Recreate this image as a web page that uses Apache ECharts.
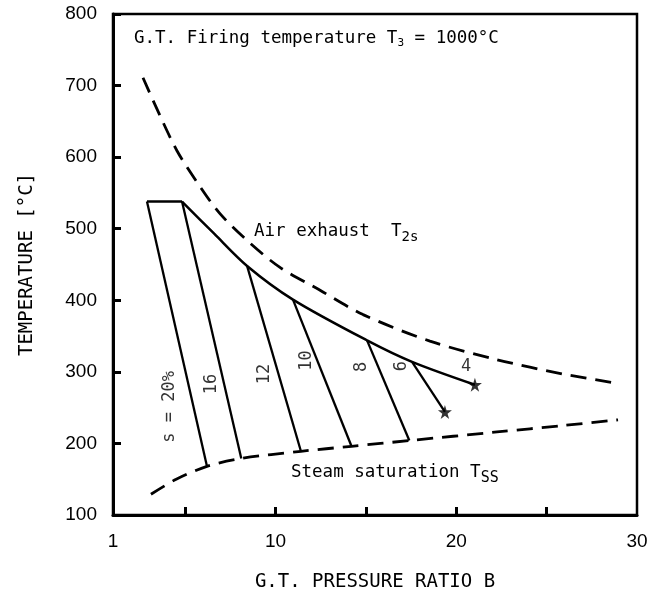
<!DOCTYPE html>
<html>
<head>
<meta charset="utf-8">
<script src="https://cdn.jsdelivr.net/npm/echarts@6/dist/echarts.min.js"></script>
<style>
html,body{margin:0;padding:0;background:#fff;}
#chart{width:651px;height:597px;}
</style>
</head>
<body>
<div id="chart"></div>
<script>
// ---- data (x = G.T. pressure ratio, y = temperature °C) ----
var airExhaust = [[2.66,711],[3.6,658],[4.54,609],[5.65,565],[6.92,521],[8.58,480],[10.24,446],[12.46,414],[14.84,380],[18.54,343],[22.25,317],[25.9,297],[28.9,284]];
var steamSat = [[3.1,129],[4.5,150],[6.2,168],[8.1,179],[11.4,189],[14.2,196],[17.4,204],[22.25,216],[25.9,225],[28.95,233]];
var exitCurve = [[4.82,538],[6.6,493],[8.42,448],[10.96,401],[15.06,344],[17.55,314],[21.03,282]];
var topSegment = [[2.88,538],[4.82,538]];
var sNames = ['s = 20%','16','12','10','8','6'];
var sTop = [[2.88,538],[4.82,538],[8.42,448],[10.96,401],[15.06,344],[17.55,314]];
var sBottom = [[6.2,168],[8.1,179],[11.4,189],[14.2,196],[17.4,204],[19.37,244]];
var sLabelPos = [[4.15,251],[6.48,283],[9.41,297],[11.74,316],[14.78,307],[16.99,308]];
var endStars = [[21.03,282],[19.37,244]];
var label4 = {name:'4', value:[20.54,308]};
var xLabelValues = [1,10,20,30];
var xTickValues = [5,10,15,20,25];

var MONO = "'DejaVu Sans Mono', monospace";
var SANS = "'Liberation Sans', Arial, sans-serif";
var chart = echarts.init(document.getElementById('chart'));
var starPath = 'path://M50,0 L61,35 L98,35 L68,57 L79,91 L50,70 L21,91 L32,57 L2,35 L39,35 Z';

var series = [
  {type:'line', data:airExhaust, smooth:0.3, symbol:'none', lineStyle:{color:'#000', width:2.8, type:[16,9]}, z:3},
  {type:'line', data:steamSat, smooth:0.3, symbol:'none', lineStyle:{color:'#000', width:2.8, type:[16,9]}, z:3},
  {type:'line', data:exitCurve, smooth:0.3, symbol:'none', lineStyle:{color:'#000', width:2.5}, z:3},
  {type:'line', data:topSegment, symbol:'none', lineStyle:{color:'#000', width:2.5}, z:3}
];
for (var i=0;i<sTop.length;i++){
  series.push({type:'line', data:[sTop[i], sBottom[i]], symbol:'none', lineStyle:{color:'#000', width:2.3}, z:3});
}
series.push({type:'scatter', data:endStars, symbol:starPath, symbolSize:14, itemStyle:{color:'#000'}, z:4});
series.push({
  type:'scatter', symbolSize:0, z:5,
  data: sNames.map(function(n,i){return {name:n, value:sLabelPos[i]};}),
  label:{show:true, position:'inside', formatter:'{b}', rotate:90, color:'#000', fontFamily:MONO, fontSize:17}
});
series.push({
  type:'scatter', symbolSize:0, z:5, data:[label4],
  label:{show:true, position:'inside', formatter:'{b}', color:'#000', fontFamily:MONO, fontSize:17}
});

chart.setOption({
  animation:false,
  backgroundColor:'#fff',
  grid:{left:113, top:14, right:14, bottom:78, show:true, borderColor:'#000', borderWidth:2.5},
  xAxis:{
    type:'value', min:1, max:30,
    name:'G.T. PRESSURE RATIO B', nameLocation:'middle', nameGap:58,
    nameTextStyle:{fontFamily:MONO, fontSize:19, color:'#000'},
    axisLine:{lineStyle:{color:'#000', width:3}},
    axisTick:{show:true, inside:true, length:8, lineStyle:{color:'#000', width:3}, customValues:xTickValues},
    axisLabel:{fontFamily:SANS, fontSize:19, color:'#000', margin:17, customValues:xLabelValues},
    splitLine:{show:false}
  },
  yAxis:{
    type:'value', min:100, max:800, interval:100,
    name:'TEMPERATURE [°C]', nameLocation:'middle', nameGap:76, nameRotate:90,
    nameTextStyle:{fontFamily:MONO, fontSize:19, color:'#000'},
    axisLine:{show:true, lineStyle:{color:'#000', width:3}},
    axisTick:{show:true, inside:true, length:8, lineStyle:{color:'#000', width:3}},
    axisLabel:{fontFamily:SANS, fontSize:19, color:'#000', margin:16},
    splitLine:{show:false}
  },
  graphic:[
    {type:'text', left:134, top:29, style:{
      text:'G.T. Firing temperature T{sub|3} = 1000°C',
      rich:{sub:{fontSize:11, padding:[10,0,0,0], fontFamily:MONO}},
      font:"17.5px 'DejaVu Sans Mono', monospace", fill:'#000'}},
    {type:'text', left:254, top:222, style:{
      text:'Air exhaust  T{sub|2s}',
      rich:{sub:{fontSize:14, padding:[12,0,0,0], fontFamily:MONO}},
      font:"17.5px 'DejaVu Sans Mono', monospace", fill:'#000'}},
    {type:'text', left:291, top:463, style:{
      text:'Steam saturation T{sub|SS}',
      rich:{sub:{fontSize:15, padding:[12,0,0,0], fontFamily:MONO}},
      font:"17.5px 'DejaVu Sans Mono', monospace", fill:'#000'}}
  ],
  series:series
});
</script>
</body>
</html>
